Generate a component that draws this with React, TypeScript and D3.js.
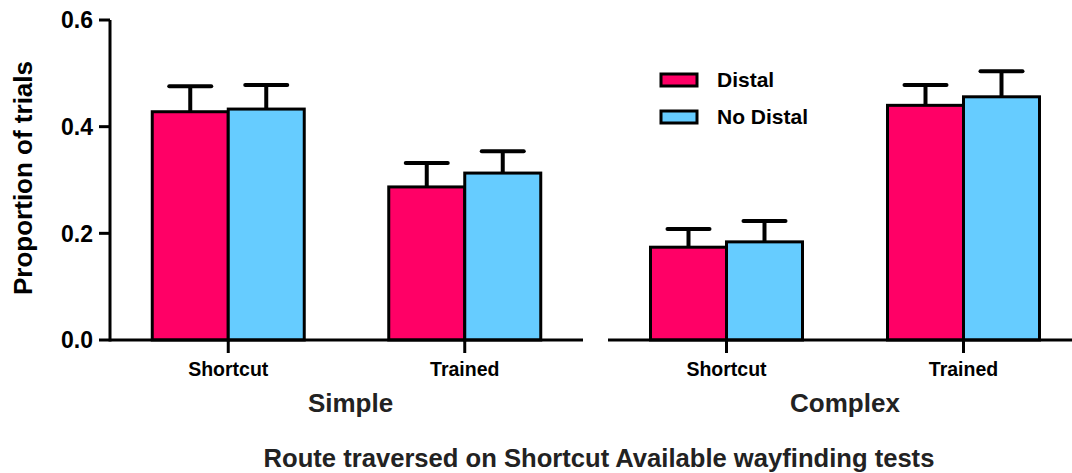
import React from "react";
import * as d3 from "d3";

const panels = ["Simple", "Complex"];
const routes = ["Shortcut", "Trained"];
const seriesNames = ["Distal", "No Distal"];
const seriesColors = ["#FF0066", "#66CCFF"];
// values[panel][route]
const distalMeans = [[0.428, 0.287], [0.174, 0.440]];
const distalErr = [[0.048, 0.045], [0.034, 0.038]];
const noDistalMeans = [[0.433, 0.313], [0.184, 0.456]];
const noDistalErr = [[0.045, 0.041], [0.039, 0.048]];
const yTicks = [0, 0.2, 0.4, 0.6];
const xTitle = "Route traversed on Shortcut Available wayfinding tests";
const yTitle = "Proportion of trials";

const W = 1072, H = 473;
const FONT = "'Liberation Sans', Arial, sans-serif";

export default function App() {
  const y = d3.scaleLinear().domain([0, 0.6]).range([340, 20]);
  const panelRanges: [number, number][] = [[110, 583], [608, 1082]];
  const axisEnds = [583, 1072];
  const means = [distalMeans, noDistalMeans];
  const errs = [distalErr, noDistalErr];
  const barW = 76;
  const capW = 42;

  return (
    <svg width={W} height={H} style={{ position: "absolute", left: 0, top: 0, background: "#fff" }}>
      {/* Y axis */}
      <line x1={110} x2={110} y1={y(0.6)} y2={y(0) + 1.5} stroke="#000" strokeWidth={3} />
      {yTicks.map((t) => (
        <g key={t}>
          <line x1={99} x2={110} y1={y(t)} y2={y(t)} stroke="#000" strokeWidth={3} />
          <text x={93} y={y(t)} dy="0.36em" textAnchor="end" fontFamily={FONT} fontWeight="bold" fontSize={23} fill="#000">
            {t.toFixed(1)}
          </text>
        </g>
      ))}
      <text
        transform={`translate(32,178) rotate(-90)`}
        textAnchor="middle"
        fontFamily={FONT}
        fontWeight="bold"
        fontSize={26}
        fill="#000"
      >
        {yTitle}
      </text>

      {panels.map((p, pi) => {
        const x0 = d3.scaleBand<string>().domain(routes).range(panelRanges[pi]).padding(0);
        const [a, b] = panelRanges[pi];
        return (
          <g key={p}>
            {routes.map((r, ri) => {
              const cx = (x0(r) as number) + x0.bandwidth() / 2;
              return (
                <g key={r}>
                  {seriesNames.map((s, si) => {
                    const v = means[si][pi][ri];
                    const e = errs[si][pi][ri];
                    const bx = si === 0 ? cx - barW : cx;
                    const mid = bx + barW / 2;
                    return (
                      <g key={s}>
                        <line x1={mid} x2={mid} y1={y(v)} y2={y(v + e)} stroke="#000" strokeWidth={4} />
                        <line x1={mid - capW / 2} x2={mid + capW / 2} y1={y(v + e)} y2={y(v + e)} stroke="#000" strokeWidth={4} strokeLinecap="round" />
                        <rect x={bx} y={y(v)} width={barW} height={y(0) - y(v)} fill={seriesColors[si]} stroke="#000" strokeWidth={3} />
                      </g>
                    );
                  })}
                  <line x1={cx} x2={cx} y1={y(0)} y2={y(0) + 13} stroke="#000" strokeWidth={3} />
                  <text x={cx} y={376} textAnchor="middle" fontFamily={FONT} fontWeight="bold" fontSize={19.5} fill="#000">
                    {r}
                  </text>
                </g>
              );
            })}
            <line x1={pi === 0 ? 110 : a} x2={axisEnds[pi]} y1={y(0)} y2={y(0)} stroke="#000" strokeWidth={3} />
            <text x={(a + b) / 2 + (pi === 0 ? 4 : 0)} y={412} textAnchor="middle" fontFamily={FONT} fontWeight="bold" fontSize={26} fill="#222">
              {p}
            </text>
          </g>
        );
      })}

      {/* Legend */}
      {seriesNames.map((s, si) => (
        <g key={s} transform={`translate(661,${74 + si * 37})`}>
          <rect x={0} y={0} width={36} height={12} fill={seriesColors[si]} stroke="#000" strokeWidth={3} />
          <text x={56} y={13} fontFamily={FONT} fontWeight="bold" fontSize={21} fill="#000">
            {s}
          </text>
        </g>
      ))}

      <text x={599} y={467} textAnchor="middle" fontFamily={FONT} fontWeight="bold" fontSize={25.6} fill="#222">
        {xTitle}
      </text>
    </svg>
  );
}
